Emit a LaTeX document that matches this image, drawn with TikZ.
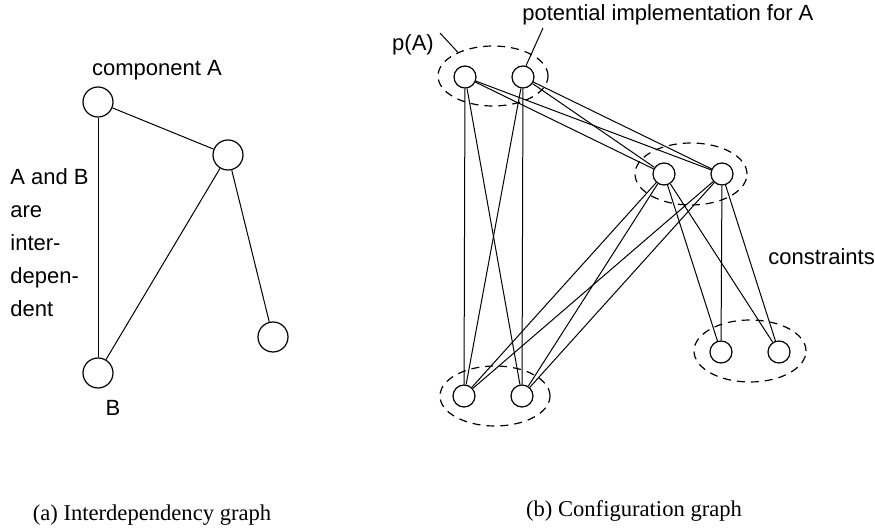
\documentclass[tikz,border=0pt]{standalone}
\usepackage{fontspec}
\setmainfont{Liberation Serif}
\setsansfont{Liberation Sans}
\usetikzlibrary{positioning}
\usetikzlibrary{shapes}

\tikzset{
  comp/.style={circle, draw, line width=0.6pt, minimum size=15pt, inner sep=0pt},
  impl/.style={circle, draw, line width=0.6pt, minimum size=11pt, inner sep=0pt},
  grp/.style={ellipse, draw, line width=0.6pt, dash pattern=on 4pt off 3pt, inner sep=0pt},
  lbl/.style={font=\sffamily\fontsize{11}{16.5}\selectfont, inner sep=0pt},
  capt/.style={font=\rmfamily\fontsize{11.3}{13}\selectfont, inner sep=0pt},
  edge/.style={line width=0.5pt}
}

\begin{document}
\begin{tikzpicture}[x=0.5pt,y=-0.5pt]
			\useasboundingbox (0,0) rectangle (875,529);

			% Interdependency graph
			\node[comp] (A) at (98,102) {};
			\node[comp] (C) at (228,155) {};
			\node[comp] (D) at (273,337) {};
			\node[comp] (B) at (98,373) {};
			\draw[edge] (A) -- (C);
			\draw[edge] (A) -- (B);
			\draw[edge] (C) -- (B);
			\draw[edge] (C) -- (D);

			\node[lbl] (Albl) at (157,70) {component A};
			\node[lbl] (Blbl) at (113,408) {B};
			\node[lbl, align=left, anchor=north west] (dep) at (10,168)
				{A and B\\are\\inter-\\depen-\\dent};

			% Configuration graph: groups of implementations
			\node[grp, minimum width=55pt, minimum height=30pt] (pA) at (493,76) {};
			\node[grp, minimum width=56pt, minimum height=31pt] (pM) at (691,174) {};
			\node[grp, minimum width=55pt, minimum height=30pt] (pB) at (495,396) {};
			\node[grp, minimum width=56pt, minimum height=31pt] (pR) at (750,351) {};

			\node[impl] (a1) at (465,77) {};
			\node[impl] (a2) at (523,77) {};
			\node[impl] (m1) at (664,174) {};
			\node[impl] (m2) at (722,174) {};
			\node[impl] (b1) at (464,396) {};
			\node[impl] (b2) at (522,396) {};
			\node[impl] (r1) at (721,352) {};
			\node[impl] (r2) at (779,352) {};

			% Constraints
			\foreach \u in {a1,a2} {
				\foreach \v in {m1,m2,b1,b2} {
					\draw[edge] (\u) -- (\v);
				}
			}
			\foreach \u in {m1,m2} {
				\foreach \v in {b1,b2,r1,r2} {
					\draw[edge] (\u) -- (\v);
				}
			}

			% Labels
			\node[lbl] (pAlbl) at (413,45) {p(A)};
			\node[lbl, anchor=west] (impllbl) at (522,15) {potential implementation for A};
			\node[lbl, anchor=west] (conlbl) at (768,257) {constraints};
			\coordinate (pAtip) at (440,33);
			\coordinate (impltip) at (543,28);
			\draw[edge] (pAtip) -- (pA.146);
			\draw[edge] (impltip) -- (a2.75);

			% Captions
			\node[capt] (capa) at (152,515) {(a) Interdependency graph};
			\node[capt] (capb) at (634,511) {(b) Configuration graph};
		\end{tikzpicture}
\end{document}
